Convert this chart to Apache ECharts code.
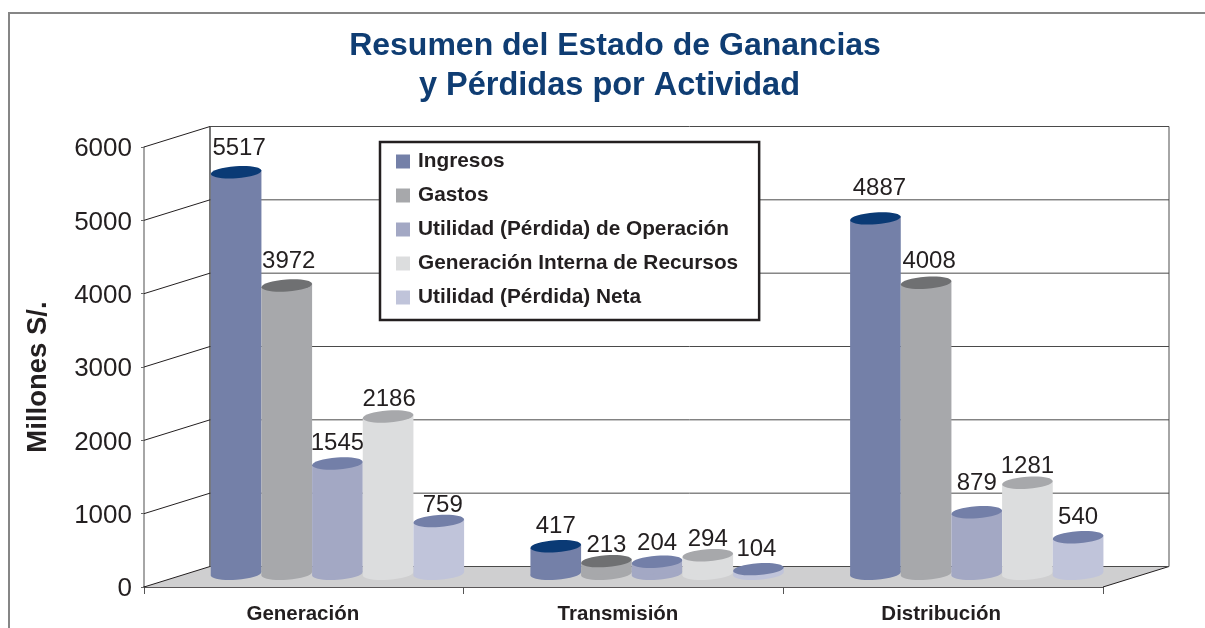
<!DOCTYPE html>
<html><head><meta charset="utf-8">
<style>html,body{margin:0;padding:0;background:#fff}#c{width:1205px;height:628px}</style>
<script src="https://cdn.jsdelivr.net/npm/echarts@6/dist/echarts.min.js"></script>
</head><body><div id="c"></div>
<script>
const categories = ['Generación', 'Transmisión', 'Distribución'];
const yTicks = [0, 1000, 2000, 3000, 4000, 5000, 6000];
const ingresos = [5517, 417, 4887];
const gastos = [3972, 213, 4008];
const utilidadOperacion = [1545, 204, 879];
const generacionInterna = [2186, 294, 1281];
const utilidadNeta = [759, 104, 540];

const FONT = '"Liberation Sans", Arial, sans-serif';
const DEPTH_X = 66, DEPTH_Y = -20.5;
const seriesDefs = [
  { name: 'Ingresos', data: ingresos, body: '#7480a8', top: '#0a3a75', nudge: [[3, -24], [0, -20], [4, -30]] },
  { name: 'Gastos', data: gastos, body: '#a7a8ab', top: '#6f7072', nudge: [[2, -24], [0, -16], [3, -21]] },
  { name: 'Utilidad (Pérdida) de Operación', data: utilidadOperacion, body: '#a3a8c4', top: '#737fa8', nudge: [[0, -20], [0, -18], [0, -29]] },
  { name: 'Generación Interna de Recursos', data: generacionInterna, body: '#dcddde', top: '#a7a8ab', nudge: [[1, -17], [0, -16], [0, -16]] },
  { name: 'Utilidad (Pérdida) Neta', data: utilidadNeta, body: '#c0c4da', top: '#737fa8', nudge: [[4, -16], [-2, -20], [0, -20]] }
];
const xLabelShift = [2, 11, 4];

function line(x1, y1, x2, y2, stroke, w) {
  return { type: 'line', silent: true, shape: { x1, y1, x2, y2 }, style: { stroke, lineWidth: w } };
}

function cylinderRenderer(def, idx) {
  return function (params, api) {
    const cat = api.value(0), val = api.value(1);
    const band = api.size([1, 0])[0];
    const w = band * 0.1585;
    const p = api.coord([cat, val]);
    const p0 = api.coord([cat, 0]);
    const cx = p[0] + DEPTH_X / 2 + 0.6 + (idx - 2) * w;
    const topY = p[1] + DEPTH_Y / 2;
    const botY = p0[1] + DEPTH_Y / 2 - 3;
    const rx = w / 2, ry = 6, rot = 0.07, tilt = rx * Math.sin(rot);
    const ell = (cy, fill) => ({ type: 'ellipse', x: cx, y: cy, rotation: rot, shape: { cx: 0, cy: 0, rx, ry }, style: { fill } });
    const n = def.nudge[cat];
    return {
      type: 'group',
      children: [
        ell(botY, def.body),
        { type: 'polygon', shape: { points: [[cx - rx, topY + tilt], [cx + rx, topY - tilt], [cx + rx, botY - tilt], [cx - rx, botY + tilt]] }, style: { fill: def.body } },
        ell(topY, def.top),
        { type: 'text', style: { text: String(val), x: cx + n[0], y: topY + n[1], fill: '#231f20', font: '24px ' + FONT, textAlign: 'center', textVerticalAlign: 'middle' } }
      ]
    };
  };
}

const xRich = {};
xLabelShift.forEach((s, i) => {
  xRich['l' + i] = { fontFamily: FONT, fontSize: 20.5, fontWeight: 'bold', color: '#231f20', padding: [0, s, 0, 0] };
});

const chart = echarts.init(document.getElementById('c'), null, { renderer: 'canvas' });
chart.setOption({
  animation: false,
  backgroundColor: '#fff',
  title: [
    { text: 'Resumen del Estado de Ganancias', left: 610, top: 25, textAlign: 'center', textStyle: { fontFamily: FONT, fontSize: 32, fontWeight: 'bold', color: '#0f3d73' } },
    { text: 'y Pérdidas por Actividad', left: 604.5, top: 65, textAlign: 'center', textStyle: { fontFamily: FONT, fontSize: 32.5, fontWeight: 'bold', color: '#0f3d73' } }
  ],
  graphic: [
    { type: 'polyline', silent: true, shape: { points: [[9, 628], [9, 13], [1205, 13]] }, style: { stroke: '#868686', lineWidth: 2, fill: null } }
  ],
  grid: { left: 144, width: 959, top: 147, height: 440, containLabel: false },
  legend: {
    orient: 'vertical', left: 380, top: 142, selectedMode: false,
    padding: [9, 21, 12, 16],
    backgroundColor: '#fff', borderColor: '#231f20', borderWidth: 2.5,
    itemWidth: 14, itemHeight: 14, itemGap: 13, icon: 'rect',
    textStyle: { fontFamily: FONT, fontSize: 20.8, fontWeight: 'bold', color: '#231f20', lineHeight: 20, padding: [0, 0, 0, 3] },
    data: seriesDefs.map(d => d.name)
  },
  xAxis: {
    type: 'category', data: categories,
    axisLine: { lineStyle: { color: '#231f20', width: 1.5 } },
    axisTick: { show: true, length: 7, lineStyle: { color: '#555' } },
    axisLabel: { margin: 17, formatter: (v, i) => '{l' + i + '|' + v + '}', rich: xRich }
  },
  yAxis: {
    type: 'value', min: 0, max: 6000, interval: 1000,
    name: 'Millones S/.', nameLocation: 'middle', nameGap: 92, nameRotate: 90,
    nameTextStyle: { fontFamily: FONT, fontSize: 27.5, fontWeight: 'bold', color: '#231f20', padding: [0, 20, 0, 0] },
    axisLine: { show: true, lineStyle: { color: '#888', width: 1.5 } },
    axisTick: { show: true, length: 3, lineStyle: { color: '#666' } },
    axisLabel: {
      margin: 12, formatter: v => '{t|' + v + '}',
      rich: { t: { fontFamily: FONT, fontSize: 26, color: '#231f20', padding: [4, 0, 0, 0] } }
    },
    splitLine: { show: false }
  },
  series: [
    {
      type: 'custom', silent: true, z: 1, data: [[0]],
      renderItem: function (params, api) {
        const g = params.coordSys;
        const y0 = api.coord([0, 0])[1], yTop = api.coord([0, 6000])[1];
        const xL = g.x, xR = g.x + g.width;
        return {
          type: 'group',
          children: [
            { type: 'polygon', shape: { points: [[xL, y0], [xL + DEPTH_X, y0 + DEPTH_Y], [xR + DEPTH_X, y0 + DEPTH_Y], [xR, y0]] }, style: { fill: '#cfcfd0' } },
            line(xL + DEPTH_X, yTop + DEPTH_Y, xL + DEPTH_X, y0 + DEPTH_Y, '#4a4a4a', 1.5),
            line(xR + DEPTH_X, yTop + DEPTH_Y, xR + DEPTH_X, y0 + DEPTH_Y, '#888', 1.5),
            line(xR, y0, xR + DEPTH_X, y0 + DEPTH_Y, '#231f20', 1)
          ]
        };
      }
    },
    {
      type: 'custom', silent: true, z: 1, data: yTicks.map(v => [0, v]),
      renderItem: function (params, api) {
        const g = params.coordSys;
        const y = api.coord([0, api.value(1)])[1];
        const xL = g.x + DEPTH_X, xR = g.x + g.width + DEPTH_X, yb = y + DEPTH_Y;
        return {
          type: 'group',
          children: [
            line(g.x, y, xL, yb, '#231f20', 1),
            line(xL, yb, xR, yb, '#4a4a4a', 1)
          ]
        };
      }
    }
  ].concat(seriesDefs.map((d, i) => ({
    type: 'custom', name: d.name, z: 3,
    itemStyle: { color: d.body },
    encode: { x: 0, y: 1 },
    data: d.data.map((v, c) => [c, v]),
    renderItem: cylinderRenderer(d, i)
  })))
});
</script></body></html>
